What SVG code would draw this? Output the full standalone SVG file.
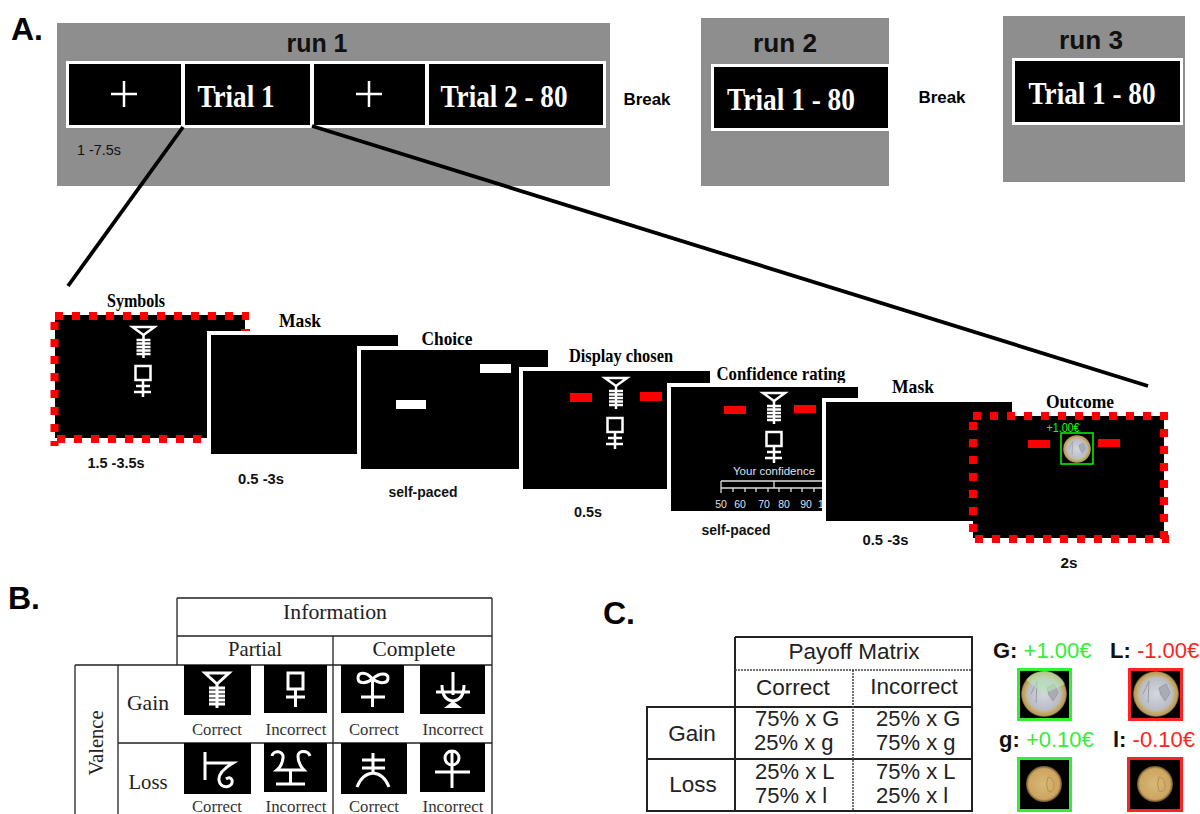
<svg xmlns="http://www.w3.org/2000/svg" width="1200" height="814" viewBox="0 0 1200 814">
<style>
text{font-family:"Liberation Sans",Arial,sans-serif;text-anchor:middle;fill:#000}
.panel{font-size:32px;font-weight:700;text-anchor:start}
.run{font-size:25px;font-weight:700;fill:#111}
.brk{font-size:16px;font-weight:700}
.trial{font-family:"Liberation Serif",serif;font-size:31px;font-weight:700;fill:#fff}
.lab{font-family:"Liberation Serif",serif;font-size:19px;font-weight:700}
.time{font-size:15px;font-weight:700;fill:#111}
.note{font-size:15px;fill:#111}
.gb{font-family:"Liberation Serif",serif;font-size:22px;fill:#222}
.gs{font-family:"Liberation Serif",serif;font-size:16.500px;fill:#333}
.cs{font-size:22.500px;fill:#222}
.ca{font-size:22px;fill:#222;text-anchor:start}
.cl{font-size:22px;text-anchor:start}
.k{font-weight:700;fill:#111}
.gr{fill:#3e3}
.rd{fill:#f22}
.bk{fill:#000}
.scr{fill:#000;stroke:#fff;stroke-width:4}
.gray{fill:#8e8e8e}
.w{fill:none;stroke:#fff;stroke-width:2.500}
.wb{fill:none;stroke:#fff;stroke-width:3}
.dash{fill:none;stroke:#f00;stroke-width:8;stroke-dasharray:8 9}
.red{fill:#f00}
.tb{fill:none;stroke:#222;stroke-width:1.300}
.tc{fill:none;stroke:#222;stroke-width:2}
.td{fill:none;stroke:#444;stroke-width:1.500;stroke-dasharray:2 1}
.conn{fill:none;stroke:#000;stroke-width:3.800}
.conf{font-size:11.500px;fill:#dfe2f0}
.tick{font-size:10.500px;fill:#dfe2f0}
.gain{font-size:13.500px;fill:#1f1}
</style>
<defs>
<radialGradient id="big"><stop offset="0" stop-color="#d4d7de"/><stop offset="0.72" stop-color="#b9bcc4"/><stop offset="0.8" stop-color="#c8b070"/><stop offset="0.94" stop-color="#b89a5a"/><stop offset="1" stop-color="#4a3c22"/></radialGradient>
<radialGradient id="small"><stop offset="0" stop-color="#d8b878"/><stop offset="0.85" stop-color="#cda560"/><stop offset="1" stop-color="#6a5028"/></radialGradient>
<g id="s1" class="w"><path d="M-11 0H11L0 8Z"/><path d="M0 8V31M-7 13H7M-7 16.500H7M-7 20H7M-7 23.500H7M-7 27H7"/></g>
<g id="s2" class="w"><rect x="-7.500" y="0" width="15" height="14"/><path d="M0 14V31M-7 20H7M-9 26H8"/></g>
<g id="bigcoin"><circle r="23" fill="url(#big)"/><path d="M-7-13L-8 9M-7-13L-13 0M3-6L10-10L14-1L9 7L5 1Z" fill="#a9acb4" stroke="#9a9da6" stroke-width="1"/></g>
<g id="smallcoin"><circle r="18" fill="url(#small)"/><path d="M4-7Q11-6 10 4Q8 9 4 7Q1 0 4-7Z" fill="none" stroke="#b8924f" stroke-width="1"/></g>
</defs>
<rect width="1200" height="814" fill="#fff"/>

<g id="panel-labels">
<text class="panel" x="11" y="40">A.</text>
<text class="panel" x="8" y="609">B.</text>
<text class="panel" x="603" y="624">C.</text>
</g>

<g id="run1">
<rect class="gray" x="57" y="23" width="553" height="163"/>
<text class="run" x="317" y="52" textLength="61" lengthAdjust="spacingAndGlyphs">run 1</text>
<rect x="66" y="61" width="540" height="67" fill="#fff"/>
<rect class="bk" x="69" y="64" width="112" height="61"/>
<rect class="bk" x="185" y="64" width="125" height="61"/>
<rect class="bk" x="314" y="64" width="111" height="61"/>
<rect class="bk" x="429" y="64" width="174" height="61"/>
<path d="M111 94H137M124 81V107M356 94H382M369 81V107" stroke="#fff" stroke-width="2.500" fill="none"/>
<text class="trial" x="236" y="107" textLength="77" lengthAdjust="spacingAndGlyphs">Trial 1</text>
<text class="trial" x="504" y="107" textLength="127" lengthAdjust="spacingAndGlyphs">Trial 2 - 80</text>
<text class="note" x="99" y="155" textLength="44" lengthAdjust="spacingAndGlyphs">1 -7.5s</text>
</g>

<g id="break1"><text class="brk" x="647" y="105" textLength="47" lengthAdjust="spacingAndGlyphs">Break</text></g>

<g id="run2">
<rect class="gray" x="701" y="18" width="188" height="168"/>
<text class="run" x="785" y="52" textLength="64" lengthAdjust="spacingAndGlyphs">run 2</text>
<rect x="711" y="64" width="180" height="67" fill="#fff"/>
<rect class="bk" x="714" y="67" width="174" height="61"/>
<text class="trial" x="791" y="110" textLength="128" lengthAdjust="spacingAndGlyphs">Trial 1 - 80</text>
</g>

<g id="break2"><text class="brk" x="942" y="103" textLength="47" lengthAdjust="spacingAndGlyphs">Break</text></g>

<g id="run3">
<rect class="gray" x="1003" y="16" width="182" height="166"/>
<text class="run" x="1091" y="49" textLength="64" lengthAdjust="spacingAndGlyphs">run 3</text>
<rect x="1012" y="58" width="171" height="67" fill="#fff"/>
<rect class="bk" x="1015" y="61" width="165" height="61"/>
<text class="trial" x="1092" y="104" textLength="127" lengthAdjust="spacingAndGlyphs">Trial 1 - 80</text>
</g>

<g id="connectors">
<path class="conn" d="M183 127L68 286"/>
<path class="conn" d="M312 126L1148 386"/>
</g>

<g id="screen-symbols">
<text class="lab" x="136" y="307" textLength="58" lengthAdjust="spacingAndGlyphs">Symbols</text>
<rect class="bk" x="55" y="315" width="190" height="123"/>
<path class="dash" d="M55 316H249"/>
<path class="dash" d="M54.500 322V446"/>
<path class="dash" d="M57 439H205"/>
<rect class="red" x="241" y="329" width="9" height="2"/>
<use href="#s1" x="143.500" y="327"/>
<use href="#s2" x="143" y="366"/>
<text class="time" x="116" y="468" textLength="57" lengthAdjust="spacingAndGlyphs">1.5 -3.5s</text>
</g>

<g id="screen-mask1">
<text class="lab" x="300" y="327" textLength="42" lengthAdjust="spacingAndGlyphs">Mask</text>
<rect class="scr" x="209" y="333" width="191" height="123"/>
<text class="time" x="261" y="484" textLength="46" lengthAdjust="spacingAndGlyphs">0.5 -3s</text>
</g>

<g id="screen-choice">
<text class="lab" x="447" y="345" textLength="51" lengthAdjust="spacingAndGlyphs">Choice</text>
<rect class="scr" x="359" y="348" width="191" height="123"/>
<rect x="396" y="400" width="30" height="9" fill="#fff"/>
<rect x="480" y="364" width="31" height="9" fill="#fff"/>
<text class="time" x="423" y="497" textLength="69" lengthAdjust="spacingAndGlyphs">self-paced</text>
</g>

<g id="screen-display">
<text class="lab" x="621" y="362" textLength="104" lengthAdjust="spacingAndGlyphs">Display chosen</text>
<rect class="scr" x="521" y="369" width="191" height="122"/>
<rect class="red" x="570" y="393" width="22" height="9"/>
<rect class="red" x="640" y="392" width="22" height="9"/>
<use href="#s1" x="616" y="378"/>
<use href="#s2" x="615" y="418"/>
<text class="time" x="588" y="517" textLength="28" lengthAdjust="spacingAndGlyphs">0.5s</text>
</g>

<g id="screen-confidence">
<text class="lab" x="781" y="380" textLength="129" lengthAdjust="spacingAndGlyphs">Confidence rating</text>
<rect class="scr" x="669" y="385" width="191" height="128"/>
<rect class="red" x="724" y="406" width="22" height="8"/>
<rect class="red" x="794" y="405" width="22" height="8"/>
<use href="#s1" x="774" y="393"/>
<use href="#s2" x="774" y="432"/>
<text class="conf" x="774" y="475">Your confidence</text>
<path d="M721 481H822M721 488H822M721 481V493M774 481V488M733 488V492M745 488V492M756 488V492M768 488V492M779 488V492M791 488V492M802 488V492M814 488V492" fill="none" stroke="#ddd" stroke-width="1.300"/>
<text class="tick" x="721" y="508">50</text><text class="tick" x="740" y="508">60</text><text class="tick" x="764" y="508">70</text><text class="tick" x="784" y="508">80</text><text class="tick" x="806" y="508">90</text><text class="tick" x="821" y="508">1</text>
<text class="time" x="736" y="535" textLength="69" lengthAdjust="spacingAndGlyphs">self-paced</text>
</g>

<g id="screen-mask2">
<text class="lab" x="913" y="393" textLength="42" lengthAdjust="spacingAndGlyphs">Mask</text>
<rect class="scr" x="824" y="400" width="190" height="123"/>
<text class="time" x="885.500" y="545" textLength="46" lengthAdjust="spacingAndGlyphs">0.5 -3s</text>
</g>

<g id="screen-outcome">
<text class="lab" x="1080" y="408" textLength="68" lengthAdjust="spacingAndGlyphs">Outcome</text>
<rect class="bk" x="973" y="416" width="191" height="122"/>
<path class="dash" d="M973 416H1169"/>
<path class="dash" d="M973 422V534"/>
<path class="dash" d="M975 539H1169"/>
<path class="dash" d="M1164 429V544"/>
<rect class="red" x="1028" y="440" width="22" height="8"/>
<rect class="red" x="1098" y="439" width="22" height="8"/>
<rect x="1061" y="433" width="32" height="31" fill="#000" stroke="#0f0" stroke-width="1.500"/>
<g transform="translate(1077 449) scale(0.61)"><use href="#bigcoin"/></g>
<text class="gain" x="1063" y="432" textLength="33" lengthAdjust="spacingAndGlyphs">+1.00€</text>
<text class="time" x="1069" y="568" textLength="17" lengthAdjust="spacingAndGlyphs">2s</text>
</g>

<g id="table-b">
<path class="tb" d="M177 598H492M177 636H492M177 665H492M492 598V814M177 598V665M333 636V814"/>
<path class="tb" d="M75 665H177M118 743H492M75 665V814M118 665V814"/>
<text class="gb" x="335" y="619" textLength="104" lengthAdjust="spacingAndGlyphs">Information</text>
<text class="gb" x="255" y="656" textLength="54" lengthAdjust="spacingAndGlyphs">Partial</text>
<text class="gb" x="414" y="656" textLength="83" lengthAdjust="spacingAndGlyphs">Complete</text>
<text class="gb" x="148" y="710" textLength="42" lengthAdjust="spacingAndGlyphs">Gain</text>
<text class="gb" x="148" y="789" textLength="39" lengthAdjust="spacingAndGlyphs">Loss</text>
<text class="gb" transform="translate(103 743) rotate(-90)" textLength="65" lengthAdjust="spacingAndGlyphs">Valence</text>
</g>

<g id="symbol-gain-partial-correct">
<rect class="bk" x="184" y="665" width="67" height="50"/>
<g class="wb"><path d="M205 673H229L217 684ZM217 684V708M209 688H225M209 692H225M209 696H225M209 700H225M209 704H225"/></g>
<text class="gs" x="217" y="735" textLength="50" lengthAdjust="spacingAndGlyphs">Correct</text>
</g>
<g id="symbol-gain-partial-incorrect">
<rect class="bk" x="264" y="665" width="63" height="48"/>
<g class="wb"><path d="M288 673H303V689H288ZM295.500 689V707M286 697H305"/></g>
<text class="gs" x="296" y="735" textLength="61" lengthAdjust="spacingAndGlyphs">Incorrect</text>
</g>
<g id="symbol-gain-complete-correct">
<rect class="bk" x="341" y="665" width="63" height="48"/>
<g class="wb"><path d="M372.500 679C365 670 358 673 358 678C358 684 366 684 372.500 679C380 672 388 673 388 678C388 684 380 684 372.500 679V707M361 697H385"/></g>
<text class="gs" x="374" y="735" textLength="50" lengthAdjust="spacingAndGlyphs">Correct</text>
</g>
<g id="symbol-gain-complete-incorrect">
<rect class="bk" x="420" y="665" width="65" height="49"/>
<g class="wb"><path d="M453 672V695M436 692H470M442 685Q442 700 453 701Q464 700 464 685"/></g>
<path d="M453 701L462 708H444Z" fill="#fff"/>
<text class="gs" x="453" y="735" textLength="61" lengthAdjust="spacingAndGlyphs">Incorrect</text>
</g>
<g id="symbol-loss-partial-correct">
<rect class="bk" x="184" y="743" width="67" height="51"/>
<g class="wb"><path d="M205 752V780M205 763H233Q218 772 219 780C220 790 234 788 232 780Q230 776 226 779"/></g>
<text class="gs" x="217" y="812" textLength="50" lengthAdjust="spacingAndGlyphs">Correct</text>
</g>
<g id="symbol-loss-partial-incorrect">
<rect class="bk" x="264" y="743" width="63" height="49"/>
<g class="wb"><path d="M272 756C273 750 284 750 283 758Q282 766 277 770H304Q298 764 298 756C298 750 308 750 310 756M290.500 770V784M276 784H305"/></g>
<text class="gs" x="296" y="812" textLength="61" lengthAdjust="spacingAndGlyphs">Incorrect</text>
</g>
<g id="symbol-loss-complete-correct">
<rect class="bk" x="341" y="743" width="66" height="51"/>
<g class="wb"><path d="M373 753V774M362 760H385M362 768H385M357 787Q362 774 373 773Q384 774 389 787"/></g>
<text class="gs" x="374" y="812" textLength="50" lengthAdjust="spacingAndGlyphs">Correct</text>
</g>
<g id="symbol-loss-complete-incorrect">
<rect class="bk" x="420" y="743" width="65" height="49"/>
<g class="wb"><circle cx="452" cy="758" r="7"/><path d="M452 751V788M435 772H470"/></g>
<text class="gs" x="453" y="812" textLength="61" lengthAdjust="spacingAndGlyphs">Incorrect</text>
</g>

<g id="table-c">
<path class="tc" d="M735 637H972V811H647V707H972M647 759H972M735 637V811"/>
<path class="td" d="M735 670H972M853 670V811"/>
<text class="cs" x="854" y="659">Payoff Matrix</text>
<text class="cs" x="793" y="695">Correct</text>
<text class="cs" x="914" y="694">Incorrect</text>
<text class="cs" x="692" y="741">Gain</text>
<text class="cs" x="693" y="792">Loss</text>
<text class="ca" x="755" y="726">75% x G</text>
<text class="ca" x="754" y="749.500">25% x g</text>
<text class="ca" x="755" y="779">25% x L</text>
<text class="ca" x="755" y="802.500">75% x l</text>
<text class="ca" x="876" y="726">25% x G</text>
<text class="ca" x="876" y="749.500">75% x g</text>
<text class="ca" x="876" y="779">75% x L</text>
<text class="ca" x="876" y="802.500">25% x l</text>
</g>

<g id="coin-G">
<text class="cl" x="993" y="658"><tspan class="k">G:</tspan> <tspan class="gr">+1.00€</tspan></text>
<rect x="1018.500" y="669.500" width="52" height="50" fill="#000" stroke="#3e3" stroke-width="3"/>
<use href="#bigcoin" x="1044" y="694"/>
<path d="M1026 680A23 23 0 0 1 1065 684L1044 694Z" fill="#b8e8b8" opacity="0.6"/>
</g>
<g id="coin-L">
<text class="cl" x="1110" y="658"><tspan class="k">L:</tspan> <tspan class="rd">-1.00€</tspan></text>
<rect x="1129.500" y="669.500" width="52" height="50" fill="#000" stroke="#f22" stroke-width="3"/>
<use href="#bigcoin" x="1156" y="694"/>
</g>
<g id="coin-g">
<text class="cl" x="999" y="747"><tspan class="k">g:</tspan> <tspan class="gr">+0.10€</tspan></text>
<rect x="1018.500" y="758.500" width="52" height="52" fill="#000" stroke="#3e3" stroke-width="3"/>
<use href="#smallcoin" x="1044" y="784"/>
</g>
<g id="coin-l">
<text class="cl" x="1113" y="747"><tspan class="k">l:</tspan> <tspan class="rd">-0.10€</tspan></text>
<rect x="1128.500" y="758.500" width="53" height="52" fill="#000" stroke="#f22" stroke-width="3"/>
<use href="#smallcoin" x="1155" y="784"/>
</g>
</svg>
